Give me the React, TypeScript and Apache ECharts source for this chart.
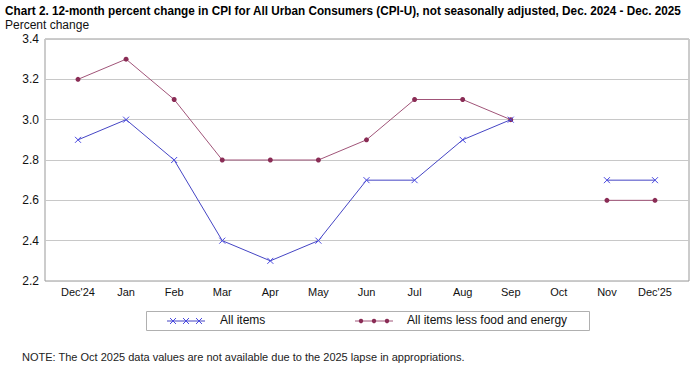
import React, { useEffect, useRef } from "react";
import * as echarts from "echarts";

const categories = ["Dec'24", "Jan", "Feb", "Mar", "Apr", "May", "Jun", "Jul", "Aug", "Sep", "Oct", "Nov", "Dec'25"];
const allItems = [2.9, 3.0, 2.8, 2.4, 2.3, 2.4, 2.7, 2.7, 2.9, 3.0, null, 2.7, 2.7];
const coreItems = [3.2, 3.3, 3.1, 2.8, 2.8, 2.8, 2.9, 3.1, 3.1, 3.0, null, 2.6, 2.6];
const yMin = 2.2;
const yMax = 3.4;
const yStep = 0.2;

const TITLE = "Chart 2. 12-month percent change in CPI for All Urban Consumers (CPI-U), not seasonally adjusted, Dec. 2024 - Dec. 2025";
const BLUE_LINE = "#4545c4";
const BLUE_MARK = "#4a4ae0";
const RED_LINE = "#a05478";
const RED_MARK = "#8a2c55";
const CROSS = "path://M0 0L10 10M10 0L0 10";

export default function App() {
  const ref = useRef<HTMLDivElement>(null);
  useEffect(() => {
    if (!ref.current) return;
    const chart = echarts.init(ref.current, null, { renderer: "svg" });
    const font = "Liberation Sans, Arial, sans-serif";
    const titleFont = "bold 13px Liberation Sans, Arial, sans-serif";
    let titleScale = 0.82;
    try {
      const c = document.createElement("canvas").getContext("2d");
      if (c) {
        c.font = titleFont;
        const w = c.measureText(TITLE).width;
        if (w > 0) titleScale = 677 / w;
      }
    } catch (e) {}
    const legendY = 321;
    const crossAt = (x: number, y: number) => [
      { type: "line", shape: { x1: x - 3, y1: y - 3, x2: x + 3, y2: y + 3 }, style: { stroke: BLUE_MARK, lineWidth: 1 } },
      { type: "line", shape: { x1: x + 3, y1: y - 3, x2: x - 3, y2: y + 3 }, style: { stroke: BLUE_MARK, lineWidth: 1 } },
    ];
    const dotAt = (x: number, y: number) => ({ type: "circle", shape: { cx: x, cy: y, r: 2.2 }, style: { fill: RED_MARK } });
    chart.setOption({
      animation: false,
      backgroundColor: "#ffffff",
      textStyle: { fontFamily: font },
      grid: [
        { left: 45, right: 11, top: 39, bottom: 93, show: true, borderColor: "#999999", borderWidth: 1, backgroundColor: "transparent" },
        { left: 78, right: 45, top: 39, bottom: 93 },
      ],
      xAxis: [
        { type: "value", gridIndex: 0, show: false, min: 0, max: 1 },
        {
          type: "category",
          gridIndex: 1,
          data: categories,
          boundaryGap: false,
          axisLine: { show: false },
          axisTick: { show: false },
          splitLine: { show: false },
          axisLabel: { color: "#111", fontSize: 11, margin: 5, fontFamily: font, interval: 0 },
        },
      ],
      yAxis: [
        {
          type: "value",
          gridIndex: 0,
          min: yMin,
          max: yMax,
          interval: yStep,
          axisLine: { show: false },
          axisTick: { show: false },
          axisLabel: { color: "#111", fontSize: 12, margin: 6, fontFamily: font, formatter: (v: number) => v.toFixed(1) },
          splitLine: { show: true, lineStyle: { color: "#c8c8c8", width: 1 } },
        },
        { type: "value", gridIndex: 1, min: yMin, max: yMax, show: false },
      ],
      series: [
        {
          name: "All items",
          type: "line",
          xAxisIndex: 1,
          yAxisIndex: 1,
          data: allItems,
          connectNulls: false,
          symbol: CROSS,
          symbolSize: 6,
          showAllSymbol: true,
          lineStyle: { color: BLUE_LINE, width: 1 },
          itemStyle: { color: "none", borderColor: BLUE_MARK, borderWidth: 1 },
          z: 3,
        },
        {
          name: "All items less food and energy",
          type: "line",
          xAxisIndex: 1,
          yAxisIndex: 1,
          data: coreItems,
          connectNulls: false,
          symbol: "circle",
          symbolSize: 5,
          showAllSymbol: true,
          lineStyle: { color: RED_LINE, width: 1 },
          itemStyle: { color: RED_MARK, borderWidth: 0 },
          z: 2,
        },
      ],
      graphic: [
        {
          type: "text",
          x: 5,
          y: 4,
          scaleX: titleScale,
          style: { text: TITLE, font: titleFont, fill: "#000", textVerticalAlign: "top" },
        },
        {
          type: "text",
          left: 5,
          top: 19,
          style: { text: "Percent change", fontFamily: font, fontSize: 12, fill: "#111" },
        },
        {
          type: "rect",
          shape: { x: 146.5, y: 311.5, width: 443, height: 19 },
          style: { fill: "#fff", stroke: "#b0b0b0", lineWidth: 1 },
        },
        { type: "line", shape: { x1: 167, y1: legendY, x2: 205, y2: legendY }, style: { stroke: BLUE_LINE, lineWidth: 1 } },
        ...crossAt(173, legendY),
        ...crossAt(186, legendY),
        ...crossAt(199, legendY),
        { type: "text", left: 220, top: legendY - 7, style: { text: "All items", fontFamily: font, fontSize: 12, fill: "#111" } },
        { type: "line", shape: { x1: 355, y1: legendY, x2: 393, y2: legendY }, style: { stroke: RED_LINE, lineWidth: 1 } },
        dotAt(361, legendY),
        dotAt(374, legendY),
        dotAt(387, legendY),
        { type: "text", left: 407, top: legendY - 7, style: { text: "All items less food and energy", fontFamily: font, fontSize: 12, fill: "#111" } },
        {
          type: "text",
          left: 22,
          top: 351,
          style: { text: "NOTE: The Oct 2025 data values are not available due to the 2025 lapse in appropriations.", fontFamily: font, fontSize: 11, fill: "#222" },
        },
      ],
    });
    return () => chart.dispose();
  }, []);
  return <div ref={ref} style={{ position: "fixed", left: 0, top: 0, width: 700, height: 374 }} />;
}
